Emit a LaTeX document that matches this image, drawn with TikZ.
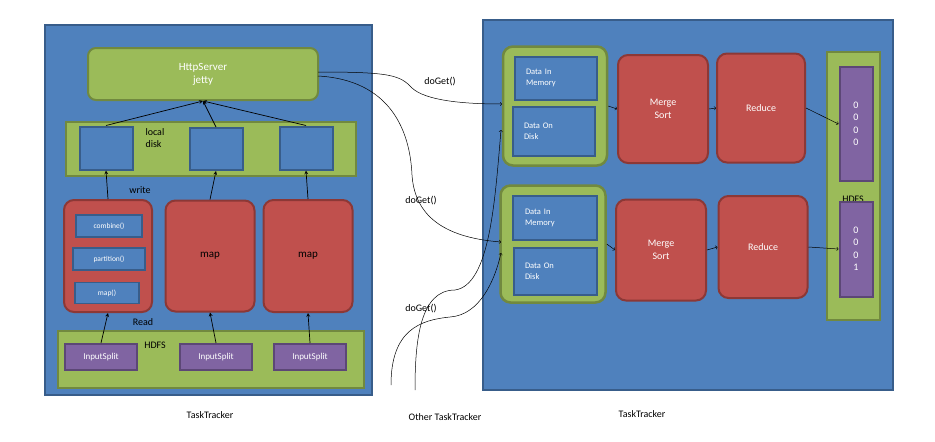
\documentclass[tikz,border=0pt]{standalone}
\usepackage{fontspec}
\setmainfont{Carlito}
\begin{document}
\begin{tikzpicture}[x=1pt,y=-1pt,
 blu/.style={fill=blue1,draw=blue2,line width=2pt},
 grn/.style={fill=grn1,draw=grn2,line width=2pt},
 red/.style={fill=red1,draw=red2,line width=2pt,rounded corners=10pt},
 pur/.style={fill=pur1,draw=pur2,line width=2pt},
 arr/.style={->,>=stealth,line width=0.7pt},
 carr/.style={->,>=to,line width=0.5pt},
 wt/.style={text=white,font=\fontsize{9}{11}\selectfont,align=center},
 bt/.style={text=black,font=\fontsize{10}{12}\selectfont,align=center}]
\definecolor{blue1}{HTML}{4F81BD}\definecolor{blue2}{HTML}{385D8A}
\definecolor{grn1}{HTML}{9BBB59}\definecolor{grn2}{HTML}{71893F}
\definecolor{red1}{HTML}{C0504D}\definecolor{red2}{HTML}{8C3836}
\definecolor{pur1}{HTML}{8064A2}\definecolor{pur2}{HTML}{5C4776}
\useasboundingbox (0,0) rectangle (935,442);
% left panel
\draw[blu] (45,25) rectangle (372,395);
\node[grn,rounded corners=8pt,minimum width=230,minimum height=52,wt,font=\fontsize{11}{13}\selectfont] (http) at (203,74) {HttpServer\\jetty};
\draw[grn] (66,122) rectangle (356,176);
\node[bt,anchor=north west,align=left] (ld) at (142,125) {local\\disk};
\node[blu,minimum width=53,minimum height=43] (d1) at (106,148) {};
\node[blu,minimum width=53,minimum height=42] (d2) at (216,149) {};
\node[blu,minimum width=53,minimum height=43] (d3) at (306,148) {};
\node[red,minimum width=88,minimum height=112] (m1) at (108,256) {};
\node[red,minimum width=89,minimum height=111,wt,font=\fontsize{11}{13}\selectfont,text=black] (m2) at (210,256) {map};
\node[red,minimum width=89,minimum height=112,wt,font=\fontsize{11}{13}\selectfont,text=black] (m3) at (308,256) {map};
\node[blu,line width=1.5pt,minimum width=66,minimum height=22,wt,font=\fontsize{7.5}{9}\selectfont] (c1) at (109,226) {combine()};
\node[blu,line width=1.5pt,minimum width=72,minimum height=22,wt,font=\fontsize{7.5}{9}\selectfont] (c2) at (109,259) {partition()};
\node[blu,line width=1.5pt,minimum width=64,minimum height=21,wt,font=\fontsize{7.5}{9}\selectfont] (c3) at (107,293) {map()};
\node[bt] (wr) at (140,190) {write};
\node[bt] (rd) at (143,322) {Read};
\draw[grn] (58,331) rectangle (364,388);
\node[bt] (hd) at (155,345) {HDFS};
\node[pur,minimum width=72,minimum height=26,wt] (i1) at (101,357) {InputSplit};
\node[pur,minimum width=72,minimum height=26,wt] (i2) at (216,357) {InputSplit};
\node[pur,minimum width=72,minimum height=26,wt] (i3) at (310,357) {InputSplit};
\coordinate (hb) at (203,101);
\foreach \d in {d1,d2,d3}{\draw[arr] (\d.north) -- (hb);}
\draw[arr] (m1.north) -- (d1.south);
\draw[arr] (m2.north) -- (d2.south);
\draw[arr] (m3.north) -- (d3.south);
\draw[arr] (i1.north) -- (m1.south);
\draw[arr] (i2.north) -- (m2.south);
\draw[arr] (i3.north) -- (m3.south);
% right panel
\draw[blu] (483,20) rectangle (893,390);
\node[grn,line width=2.5pt,rounded corners=10pt,minimum width=104,minimum height=119] (g1) at (555,106) {};
\node[blu,minimum width=82,minimum height=43,wt,font=\fontsize{8.5}{11}\selectfont,align=left,text width=60] (dm1) at (556,78) {Data In\\Memory};
\node[blu,minimum width=82,minimum height=49,wt,font=\fontsize{8.5}{11}\selectfont,align=left,text width=60] (dd1) at (554,131) {Data On\\Disk};
\node[red,minimum width=90,minimum height=108,wt,font=\fontsize{10}{13}\selectfont] (ms1) at (663,109) {Merge\\Sort};
\node[red,minimum width=88,minimum height=109,wt,font=\fontsize{10}{13}\selectfont] (r1) at (761,108) {Reduce};
\node[grn,line width=2.5pt,rounded corners=10pt,minimum width=105,minimum height=117] (g2) at (553,244) {};
\node[blu,minimum width=84,minimum height=44,wt,font=\fontsize{8.5}{11}\selectfont,align=left,text width=60] (dm2) at (555,218) {Data In\\Memory};
\node[blu,minimum width=83,minimum height=47,wt,font=\fontsize{8.5}{11}\selectfont,align=left,text width=60] (dd2) at (555,271) {Data On\\Disk};
\node[red,minimum width=90,minimum height=101,wt,font=\fontsize{10}{13}\selectfont] (ms2) at (661,250) {Merge\\Sort};
\node[red,minimum width=89,minimum height=102,wt,font=\fontsize{10}{13}\selectfont] (r2) at (763,247) {Reduce};
\draw[grn] (827,52) rectangle (880,320);
\node[bt] (hd2) at (853,199) {HDFS};
\node[pur,minimum width=33,minimum height=114,wt,font=\fontsize{10}{12.5}\selectfont] (o1) at (856,124) {0\\0\\0\\0};
\node[pur,minimum width=33,minimum height=95,wt,font=\fontsize{10}{12.5}\selectfont] (o2) at (856,249) {0\\0\\0\\1};
\draw[carr] (g1.east) -- (ms1.west);
\draw[carr] (ms1.east) -- (r1.west);
\draw[carr] (r1.east) -- (o1.west);
\draw[carr] (g2.east) -- (ms2.west);
\draw[carr] (ms2.east) -- (r2.west);
\draw[carr] (r2.east) -- (o2.west);
% curves
\coordinate (t1) at (502,104);
\coordinate (t2) at (501,242);
\coordinate (t3) at (501,130);
\coordinate (t4) at (501,253);
\coordinate (s1) at (391,385);
\coordinate (s2) at (415,390);
\draw[carr] (318,72) .. controls (390,72) and (400,75) .. (412,88) .. controls (425,100) and (460,104) .. (t1);
\draw[carr] (318,76) .. controls (390,80) and (410,130) .. (412,175) .. controls (415,220) and (450,238) .. (t2);
\draw[carr] (s2) .. controls (415,340) and (420,290) .. (455,290) .. controls (490,285) and (495,200) .. (t3);
\draw[carr] (s1) .. controls (391,330) and (420,320) .. (450,317) .. controls (480,315) and (495,280) .. (t4);
\node[bt] (dg1) at (440,82) {doGet()};
\node[bt] (dg2) at (421,201) {doGet()};
\node[bt] (dg3) at (421,309) {doGet()};
\node[bt] (tt1) at (210,415) {TaskTracker};
\node[bt] (tt2) at (445,417) {Other TaskTracker};
\node[bt] (tt3) at (642,414) {TaskTracker};
\end{tikzpicture}
\end{document}
